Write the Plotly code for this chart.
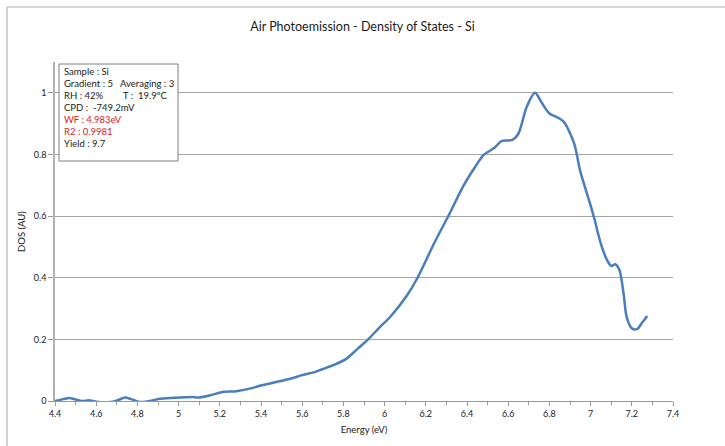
import plotly.graph_objects as go

# Density of states versus photon energy (Si sample, air photoemission)
energy_ev = [4.40, 4.44, 4.47, 4.50, 4.53, 4.57, 4.61, 4.68, 4.71, 4.74, 4.77, 4.81,
             4.85, 4.91, 4.97, 5.03, 5.07, 5.09, 5.15, 5.22, 5.28, 5.35, 5.41, 5.49,
             5.55, 5.60, 5.65, 5.70, 5.75, 5.81, 5.87, 5.92, 5.97, 6.03, 6.11, 6.16,
             6.24, 6.32, 6.38, 6.44, 6.48, 6.53, 6.57, 6.62, 6.65, 6.69, 6.73, 6.76,
             6.80, 6.84, 6.87, 6.92, 6.95, 7.00, 7.02, 7.05, 7.08, 7.10, 7.12, 7.14,
             7.16, 7.175, 7.20, 7.225, 7.25, 7.275]
dos_au = [0.000, 0.006, 0.010, 0.005, 0.000, 0.002, -0.003, -0.002, 0.004, 0.011, 0.006, -0.003,
          -0.001, 0.007, 0.010, 0.012, 0.013, 0.011, 0.018, 0.030, 0.032, 0.041, 0.052, 0.064,
          0.074, 0.084, 0.092, 0.104, 0.116, 0.135, 0.170, 0.200, 0.235, 0.275, 0.344, 0.400,
          0.511, 0.614, 0.695, 0.760, 0.798, 0.820, 0.844, 0.847, 0.868, 0.955, 1.000, 0.971,
          0.933, 0.920, 0.906, 0.836, 0.745, 0.635, 0.587, 0.510, 0.457, 0.438, 0.444, 0.425,
          0.349, 0.273, 0.236, 0.233, 0.254, 0.276]

x_ticks = [4.4, 4.6, 4.8, 5.0, 5.2, 5.4, 5.6, 5.8, 6.0, 6.2, 6.4, 6.6, 6.8, 7.0, 7.2, 7.4]
x_tick_text = ["4.4", "4.6", "4.8", "5", "5.2", "5.4", "5.6", "5.8", "6", "6.2", "6.4",
               "6.6", "6.8", "7", "7.2", "7.4"]
y_ticks = [0, 0.2, 0.4, 0.6, 0.8, 1.0]
y_tick_text = ["0", "0.2", "0.4", "0.6", "0.8", "1"]

# Measurement summary lines: (text, colour)
info_lines = [
    ("Sample : Si", "#1a1a1a"),
    ("Gradient : 5", "#1a1a1a"),
    ("RH : 42%", "#1a1a1a"),
    ("CPD :  -749.2mV", "#1a1a1a"),
    ("WF : 4.983eV", "#e0201b"),
    ("R2 : 0.9981", "#e0201b"),
    ("Yield : 9.7", "#1a1a1a"),
]
info_second_col = {1: "Averaging : 3", 2: "T :  19.9ºC"}

FONT = "Lato, 'Open Sans', sans-serif"
W, H = 725, 446
L, R, T, B = 55, 52, 62, 45
PW, PH = W - L - R, H - T - B


def px(xp):
    return (xp - L) / PW


def py(yp):
    return (H - B - yp) / PH


fig = go.Figure()
fig.add_trace(go.Scatter(
    x=energy_ev, y=dos_au, mode="lines",
    line=dict(color="#4a7ebb", width=2.5, shape="spline", smoothing=0.8),
    hoverinfo="x+y", showlegend=False,
))

shapes = [
    # outer frame (top and left edges)
    dict(type="line", xref="paper", yref="paper", x0=px(7), x1=px(W + 5), y0=py(7), y1=py(7),
         line=dict(color="#b4b4b4", width=1.2)),
    dict(type="line", xref="paper", yref="paper", x0=px(7), x1=px(7), y0=py(7), y1=py(H + 5),
         line=dict(color="#b4b4b4", width=1.2)),
    # info box
    dict(type="rect", xref="paper", yref="paper", x0=px(59), x1=px(178), y0=py(64), y1=py(161),
         line=dict(color="#7f7f7f", width=1), fillcolor="white", layer="above"),
]

annotations = []
y0 = 71
for i, (txt, col) in enumerate(info_lines):
    yy = y0 + i * 12.1
    annotations.append(dict(xref="paper", yref="paper", x=px(62), y=py(yy), text=txt,
                            showarrow=False, xanchor="left", yanchor="middle",
                            font=dict(family=FONT, size=9.5, color=col)))
    if i in info_second_col:
        xs = 118 if i == 1 else 121
        annotations.append(dict(xref="paper", yref="paper", x=px(xs), y=py(yy),
                                text=info_second_col[i], showarrow=False,
                                xanchor="left", yanchor="middle",
                                font=dict(family=FONT, size=9.5, color="#1a1a1a")))

fig.update_layout(
    width=W, height=H,
    margin=dict(l=L, r=R, t=T, b=B),
    paper_bgcolor="white", plot_bgcolor="white",
    font=dict(family=FONT, color="#1a1a1a", size=9),
    title=dict(text="Air Photoemission - Density of States - Si", x=0.5, xanchor="center",
               y=1 - 27 / H, yanchor="middle", font=dict(family=FONT, size=12.5, color="#1a1a1a")),
    xaxis=dict(
        range=[4.4, 7.4], tickvals=x_ticks, ticktext=x_tick_text,
        showgrid=False, zeroline=False,
        showline=True, linecolor="#9a9a9a", linewidth=1.2,
        ticks="outside", ticklen=4, tickcolor="#9a9a9a",
        minor=dict(dtick=0.1, tick0=4.4, ticks="outside", ticklen=3, tickcolor="#9a9a9a"),
        tickfont=dict(family=FONT, size=9, color="#1a1a1a"),
        title=dict(text="Energy (eV)", font=dict(family=FONT, size=9.5, color="#1a1a1a"),
                   standoff=8),
    ),
    yaxis=dict(
        range=[0, 1.1], tickvals=y_ticks, ticktext=y_tick_text,
        showgrid=True, gridcolor="#a6a6a6", gridwidth=1,
        zeroline=False,
        showline=True, linecolor="#b0b0b0", linewidth=1.5,
        ticks="outside", ticklen=5, tickcolor="#9a9a9a",
        tickfont=dict(family=FONT, size=9, color="#1a1a1a"),
        title=dict(text="DOS (AU)", font=dict(family=FONT, size=9.5, color="#1a1a1a"),
                   standoff=7),
    ),
    shapes=shapes,
    annotations=annotations,
)

fig.write_html("out.html")
